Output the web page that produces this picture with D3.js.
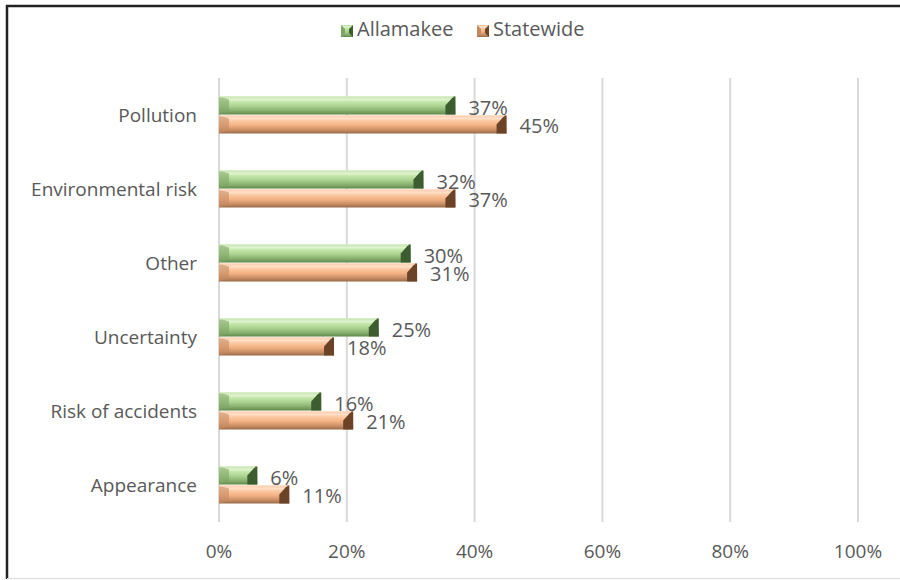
<!DOCTYPE html>
<html><head><meta charset="utf-8">
<script src="https://cdn.jsdelivr.net/npm/d3@7"></script>
<style>body{margin:0;background:#fff}svg{display:block}</style>
</head><body><svg id="c" width="900" height="580"></svg>
<script>
const categories = ["Pollution","Environmental risk","Other","Uncertainty","Risk of accidents","Appearance"];
const seriesNames = ["Allamakee","Statewide"];
const allamakee = [37,32,30,25,16,6];
const statewide = [45,37,31,18,21,11];
const ticks = [0,20,40,60,80,100];

const svg = d3.select("#c");
const W=900,H=580;
const font = "'Open Sans', sans-serif";
const textCol = "#595959";

// frame
svg.append("rect").attr("x",0).attr("y",0).attr("width",W).attr("height",H).attr("fill","#fff");
svg.append("path").attr("d","M7,579 L7,6 L900,6").attr("fill","none").attr("stroke","#222").attr("stroke-width",2.5);
svg.append("line").attr("x1",7).attr("x2",900).attr("y1",578.5).attr("y2",578.5).attr("stroke","#d9d9d9");

const x = d3.scaleLinear().domain([0,100]).range([219,858]);
const y = d3.scaleBand().domain(categories).range([78,522]).paddingInner(0.5).paddingOuter(0.25);
const sub = d3.scaleBand().domain(seriesNames).range([0,y.bandwidth()]).paddingInner(0.05);

const defs = svg.append("defs");
function grad(id, stops){
  const g = defs.append("linearGradient").attr("id",id).attr("x1",0).attr("x2",0).attr("y1",0).attr("y2",1);
  stops.forEach(s=>g.append("stop").attr("offset",s[0]).attr("stop-color",s[1]));
}
grad("gG",[[0,"#b5d99c"],[0.15,"#e2f5d2"],[0.3,"#c3e6aa"],[0.55,"#a9d08e"],[0.8,"#85ad6c"],[1,"#5f8a4c"]]);
grad("gO",[[0,"#f7bb92"],[0.15,"#ffe2cc"],[0.3,"#fcc9a3"],[0.55,"#f4b183"],[0.8,"#c98f65"],[1,"#9a6a48"]]);
const colors = {Allamakee:{fill:"url(#gG)",dark:"#3d5c30",light:"#d6efc3",mid:"#7ea565"},
                Statewide:{fill:"url(#gO)",dark:"#6b4428",light:"#ffe0c8",mid:"#c48a60"}};

// gridlines
svg.append("g").selectAll("line").data(ticks).join("line")
  .attr("x1",d=>x(d)).attr("x2",d=>x(d)).attr("y1",78).attr("y2",522)
  .attr("stroke","#d9d9d9").attr("stroke-width",2);

// tick labels
svg.append("g").selectAll("text").data(ticks).join("text")
  .attr("x",d=>x(d)).attr("y",558).attr("text-anchor","middle")
  .attr("font-family",font).attr("font-size",19).attr("fill",textCol)
  .text(d=>d+"%");

// category labels
svg.append("g").selectAll("text").data(categories).join("text")
  .attr("x",197).attr("y",d=>y(d)+y.bandwidth()/2+7).attr("text-anchor","end")
  .attr("font-family",font).attr("font-size",19).attr("fill",textCol)
  .text(d=>d);

const rows = [];
categories.forEach((c,i)=>{
  rows.push({cat:c,s:"Allamakee",v:allamakee[i]});
  rows.push({cat:c,s:"Statewide",v:statewide[i]});
});

const bars = svg.append("g").selectAll("g").data(rows).join("g")
  .attr("transform",d=>`translate(0,${y(d.cat)+sub(d.s)})`);
const bh = sub.bandwidth();
const bev = 5;
bars.append("rect").attr("x",x(0)).attr("y",0).attr("width",d=>x(d.v)-x(0)).attr("height",bh)
  .attr("fill",d=>colors[d.s].fill);
// right bevel
bars.append("path").attr("d",d=>{const xe=x(d.v);return `M${xe-bev*2},${bh/2} L${xe-2},0 L${xe},0 L${xe},${bh} L${xe-bev*2},${bh} Z`;})
  .attr("fill",d=>colors[d.s].dark);
// left bevel
bars.append("path").attr("d",d=>{const xs=x(0);return `M${xs},0 L${xs+bev*2},${bev*0.6} L${xs+bev*2},${bh-bev*0.6} L${xs},${bh} Z`;})
  .attr("fill",d=>colors[d.s].mid).attr("opacity",0.6);
// top highlight line
bars.append("line").attr("x1",x(0)).attr("x2",d=>x(d.v)-2).attr("y1",0.5).attr("y2",0.5)
  .attr("stroke",d=>colors[d.s].light).attr("stroke-width",1);

// value labels
bars.append("text").attr("x",d=>x(d.v)+13).attr("y",bh/2+9)
  .attr("font-family",font).attr("font-size",20).attr("fill",textCol)
  .text(d=>d.v+"%");

// legend
const leg = svg.append("g");
const legX = [341,477];
seriesNames.forEach((s,i)=>{
  const g = leg.append("g").attr("transform",`translate(${legX[i]},25)`);
  g.append("rect").attr("width",12).attr("height",12).attr("fill",colors[s].fill);
  g.append("path").attr("d","M0,0 L4,4 L4,8 L0,12 Z").attr("fill",colors[s].mid);
  g.append("path").attr("d","M12,0 L8,4 L8,8 L12,12 Z").attr("fill",colors[s].dark);
  g.append("text").attr("x",16).attr("y",11).attr("font-family",font).attr("font-size",20).attr("fill",textCol).text(s);
});
</script></body></html>
